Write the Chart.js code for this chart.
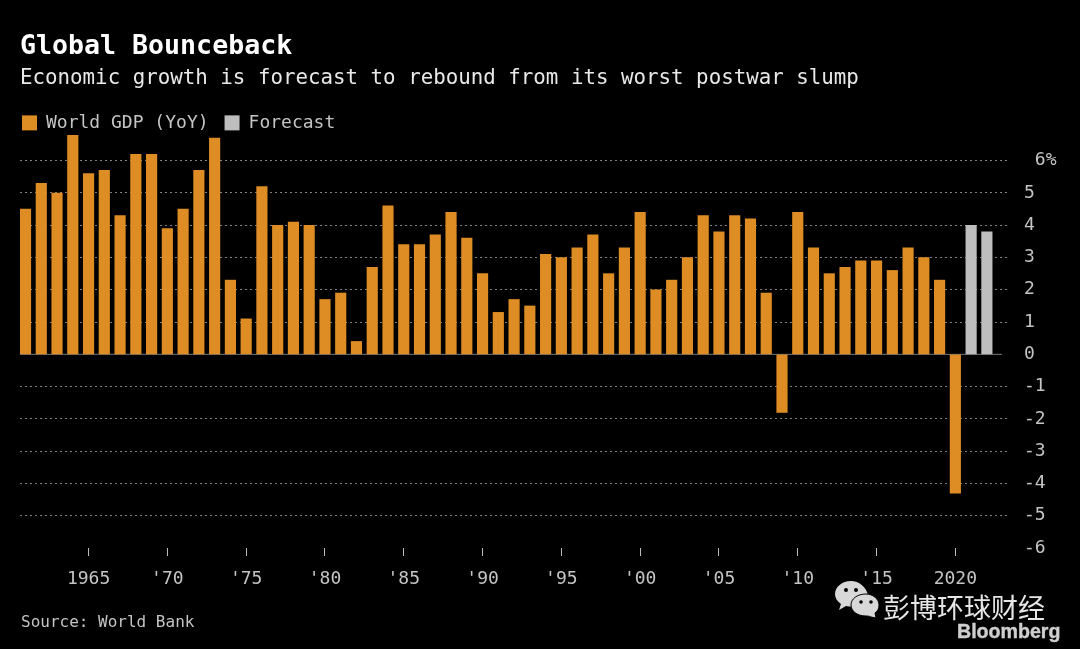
<!DOCTYPE html>
<html><head><meta charset="utf-8">
<style>
html,body{margin:0;padding:0;background:#000;width:1080px;height:649px;overflow:hidden}
#wrap{position:relative;width:1080px;height:649px}
canvas{position:absolute;left:0;top:0}
.t{position:absolute;white-space:nowrap;line-height:1}
</style>
<script src="https://cdn.jsdelivr.net/npm/chart.js@4/dist/chart.umd.min.js"></script>
</head><body><div id="wrap">
<canvas id="c" width="1080" height="649"></canvas>
<div class="t" style="left:21px;top:612px;font:16px 'DejaVu Sans Mono';color:#c4c4c4">Source: World Bank</div>
<svg style="position:absolute;left:834px;top:580px" width="46" height="38" viewBox="0 0 46 38">
<path d="M17 1C8 1 1 7 1 14c0 4 2 7 6 10l-2 6 7-4c2 .6 4 .8 6 .8-1-6 5-12 16-12C32 7 25 1 17 1z" fill="#d8d8d8"/>
<circle cx="12" cy="10" r="2" fill="#000"/><circle cx="22" cy="10" r="2" fill="#000"/>
<path d="M32 14c-9 0-15 5-15 11s6 11 15 11c2 0 3 0 5 1l5 1-1-5c3-2 4-5 4-8 0-6-6-11-13-11z" fill="#d8d8d8" stroke="#000" stroke-width="1"/>
<circle cx="27" cy="22" r="1.8" fill="#000"/><circle cx="37" cy="22" r="1.8" fill="#000"/>
</svg>
<div class="t" style="left:883px;top:587px;font:27px 'Noto Sans CJK SC';color:#e6e6e6">彭博环球财经</div>
<div class="t" style="left:957px;top:620px;font:bold 19.6px 'Liberation Sans';color:#cfcfcf;-webkit-text-stroke:.4px #cfcfcf">Bloomberg</div>
</div>
<script>
const years = [1961,1962,1963,1964,1965,1966,1967,1968,1969,1970,1971,1972,1973,1974,1975,1976,1977,1978,1979,1980,1981,1982,1983,1984,1985,1986,1987,1988,1989,1990,1991,1992,1993,1994,1995,1996,1997,1998,1999,2000,2001,2002,2003,2004,2005,2006,2007,2008,2009,2010,2011,2012,2013,2014,2015,2016,2017,2018,2019,2020];
const gdp = [4.5,5.3,5.0,6.8,5.6,5.7,4.3,6.2,6.2,3.9,4.5,5.7,6.7,2.3,1.1,5.2,4.0,4.1,4.0,1.7,1.9,0.4,2.7,4.6,3.4,3.4,3.7,4.4,3.6,2.5,1.3,1.7,1.5,3.1,3.0,3.3,3.7,2.5,3.3,4.4,2.0,2.3,3.0,4.3,3.8,4.3,4.2,1.9,-1.8,4.4,3.3,2.5,2.7,2.9,2.9,2.6,3.3,3.0,2.3,-4.3];
const forecastYears = [2021,2022];
const forecast = [4.0,3.8];
const xTickYears = [1965,1970,1975,1980,1985,1990,1995,2000,2005,2010,2015,2020];
const xTickLabels = ["1965","'70","'75","'80","'85","'90","'95","'00","'05","'10","'15","2020"];
const yTicks = [6,5,4,3,2,1,0,-1,-2,-3,-4,-5,-6];
const mono = "'DejaVu Sans Mono'";
const zeroLine = {id:'zeroLine',
 beforeLayout(ch){
  const l=ch.legend;
  if(l&&!l._trimmed){const f=l.fit.bind(l);l.fit=function(){f();this.height-=7;};l._trimmed=true;}
 },
 afterLayout(ch){ if(ch.legend) ch.legend.left=6; },
 beforeDatasetsDraw(ch){
  const g=ch.ctx,y=ch.scales.y.getPixelForValue(0),a=ch.chartArea;
  g.save();g.strokeStyle='#777';g.lineWidth=1;g.beginPath();g.moveTo(a.left,y);g.lineTo(a.right-6,y);g.stroke();g.restore();
 }};
new Chart(document.getElementById('c'),{
 type:'bar',
 plugins:[zeroLine],
 data:{datasets:[
  {label:'World GDP (YoY)',data:years.map((x,i)=>({x,y:gdp[i]})),backgroundColor:'#DE8C24',barThickness:10.5,grouped:false},
  {label:'Forecast',data:forecastYears.map((x,i)=>({x,y:forecast[i]})),backgroundColor:'#BEBEBE',barThickness:10.5,grouped:false}
 ]},
 options:{
  responsive:false,animation:false,devicePixelRatio:1,
  layout:{padding:{left:20,right:0,top:31,bottom:51}},
  plugins:{
   title:{display:true,text:'Global Bounceback',align:'start',color:'#fff',font:{family:mono,weight:'bold',size:26.6},padding:{top:0,bottom:3}},
   subtitle:{display:true,text:'Economic growth is forecast to rebound from its worst postwar slump',align:'start',color:'#e8e8e8',font:{family:mono,size:20.8,weight:'normal'},padding:{top:0,bottom:7}},
   legend:{display:true,position:'top',align:'start',labels:{color:'#c4c4c4',font:{family:mono,size:18},boxWidth:15,boxHeight:15,padding:16}},
   tooltip:{enabled:false}
  },
  scales:{
   x:{type:'linear',min:1960.65,max:2023.34,offset:false,
     afterBuildTicks(s){s.ticks=xTickYears.map(value=>({value}));},
     afterFit(s){s.height=50;},
     border:{display:false},
     grid:{offset:false,drawOnChartArea:false,drawTicks:true,tickLength:8,tickColor:'#bbb',tickWidth:1},
     ticks:{autoSkip:false,maxRotation:0,color:'#c4c4c4',font:{family:mono,size:18},padding:13,
       callback(v){const i=xTickYears.indexOf(v);return i<0?'':xTickLabels[i];}}
   },
   y:{position:'right',min:-6,max:6.8,
     afterBuildTicks(s){s.ticks=yTicks.map(value=>({value}));},
     afterFit(s){s.width=72;},
     border:{display:false,dash:[2,3]},
     grid:{drawTicks:false,lineWidth:1,color(c){return c.tick.value===0||c.tick.value===-6?'rgba(0,0,0,0)':'#808080';}},
     ticks:{color:'#c4c4c4',font:{family:mono,size:18},padding:16,autoSkip:false,
       callback(v){return v===6?' 6%':String(v);}}
   }
  }
 }
});
</script></body></html>
